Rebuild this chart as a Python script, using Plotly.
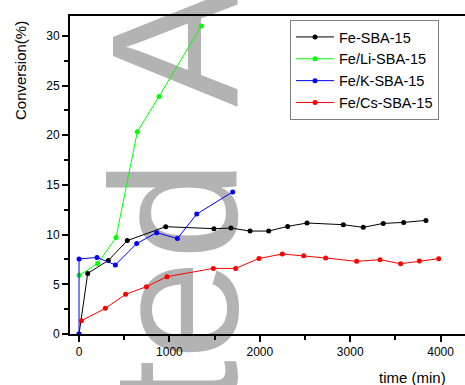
import plotly.graph_objects as go

FONT = "Liberation Sans, Arial, sans-serif"

# Data
fe_x = [0, 96, 324, 534, 959, 1493, 1681, 1892, 2098, 2308, 2522, 2924, 3145, 3366, 3591, 3838]
fe_y = [0, 6.1, 7.4, 9.4, 10.8, 10.6, 10.66, 10.36, 10.36, 10.83, 11.17, 11.0, 10.73, 11.13, 11.23, 11.43]

li_x = [0, 206, 409, 645, 885, 1353]
li_y = [5.9, 7.1, 9.7, 20.35, 23.9, 31.0]

k_x = [0, 0, 199, 402, 638, 859, 1088, 1302, 1700]
k_y = [0, 7.55, 7.7, 6.95, 9.1, 10.2, 9.6, 12.07, 14.3]

cs_x = [26, 291, 516, 745, 973, 1486, 1733, 1991, 2249, 2485, 2729, 3071, 3330, 3558, 3765, 3979]
cs_y = [1.34, 2.58, 4.0, 4.76, 5.77, 6.6, 6.6, 7.6, 8.05, 7.88, 7.65, 7.31, 7.48, 7.07, 7.34, 7.58]

series = [
    ("Fe-SBA-15", fe_x, fe_y, "#000000"),
    ("Fe/Li-SBA-15", li_x, li_y, "#00ff00"),
    ("Fe/K-SBA-15", k_x, k_y, "#0000ff"),
    ("Fe/Cs-SBA-15", cs_x, cs_y, "#ff0000"),
]

fig = go.Figure()
for name, xs, ys, col in series:
    fig.add_trace(go.Scatter(
        x=xs, y=ys, name=name, mode="lines+markers",
        line=dict(color=col, width=1),
        marker=dict(color=col, size=5, symbol="circle"),
    ))

W, H = 465, 385
L, R, T, B = 70, 0, 16, 51
PW, PH = W - L - R, H - T - B


def px_x(v):
    return (v - L) / PW


def px_y(v):
    return (H - B - v) / PH


WM_SIZE = 180
WM_CX = 157
WM_COLOR = "#b3b3b3"


def watermark(text, cy):
    return dict(
        type="rect", xref="paper", yref="paper", layer="below",
        x0=px_x(WM_CX - 20), x1=px_x(WM_CX + 20),
        y0=px_y(cy) - 0.005, y1=px_y(cy) + 0.005,
        line=dict(width=0), fillcolor="rgba(0,0,0,0)",
        label=dict(text=text, textangle=-90, textposition="middle center",
                   font=dict(family=FONT, size=WM_SIZE, color=WM_COLOR)),
    )


fig.update_layout(
    width=W, height=H,
    margin=dict(l=L, r=R, t=T, b=B, autoexpand=False),
    paper_bgcolor="white", plot_bgcolor="white",
    font=dict(family=FONT, size=12, color="black"),
    showlegend=True,
    legend=dict(
        x=px_x(290), y=px_y(20),
        xanchor="left", yanchor="top",
        bgcolor="white", bordercolor="#7f7f7f", borderwidth=1,
        font=dict(family=FONT, size=14.5, color="black"),
        itemwidth=38, tracegroupgap=0,
    ),
    xaxis=dict(
        range=[-100, 4270], tickmode="linear", tick0=0, dtick=1000,
        showgrid=False, zeroline=False,
        showline=True, linecolor="black", linewidth=2, mirror=True,
        ticks="outside", ticklen=6, tickwidth=2, tickcolor="black",
        tickfont=dict(family=FONT, size=12, color="black"),
        minor=dict(ticks="outside", ticklen=4, tickwidth=2, tickcolor="black", dtick=500, tick0=0, showgrid=False),
    ),
    yaxis=dict(
        range=[0, 32], tickmode="linear", tick0=0, dtick=5,
        showgrid=False, zeroline=False,
        showline=True, linecolor="black", linewidth=2, mirror=False,
        ticks="outside", ticklen=6, tickwidth=2, tickcolor="black",
        tickfont=dict(family=FONT, size=12, color="black"),
        minor=dict(ticks="outside", ticklen=4, tickwidth=2, tickcolor="black", dtick=2.5, tick0=0, showgrid=False),
    ),
    annotations=[
        dict(text="Conversion(%)", textangle=-90, xref="paper", yref="paper",
             x=px_x(21), y=px_y(71),
             showarrow=False, xanchor="center", yanchor="middle",
             font=dict(family=FONT, size=15, color="black")),
        dict(text="time (min)", xref="paper", yref="paper",
             x=px_x(412), y=px_y(377),
             showarrow=False, xanchor="center", yanchor="middle",
             font=dict(family=FONT, size=15, color="black")),
    ],
    shapes=[
        watermark("Accepted", 535),
        watermark("Article", -143),
    ],
)

fig.write_html("out.html", config={"displayModeBar": False},
               post_script="document.body.style.margin='0';document.body.style.overflow='hidden';")
